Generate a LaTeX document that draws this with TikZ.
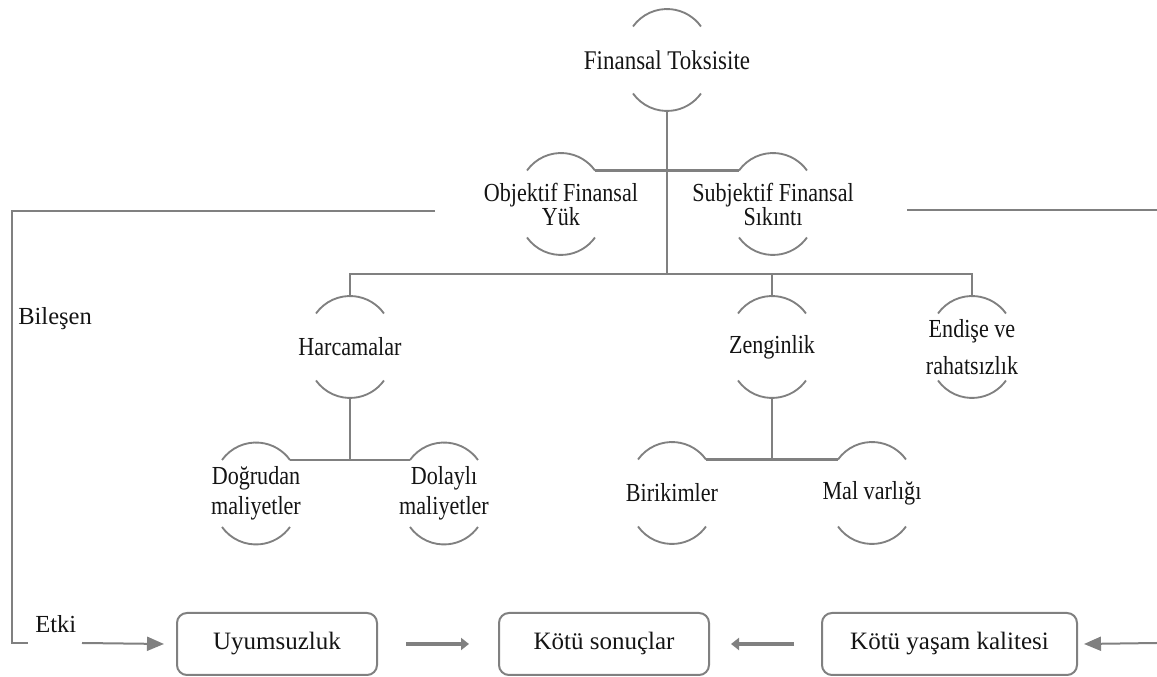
\documentclass[tikz,border=0pt]{standalone}
\usepackage{fontspec}
\setmainfont{Liberation Serif}
\newfontfamily\treefont[FakeStretch=0.85]{Liberation Serif}
\usetikzlibrary{arrows.meta}
\definecolor{lc}{HTML}{808080}
\definecolor{tc}{HTML}{141414}
\begin{document}
\begin{tikzpicture}[x=0.75pt,y=0.75pt,
  tn/.style={font=\treefont\fontsize{19.5}{22}\selectfont, text=tc, align=center, inner sep=0pt},
  arcl/.style={draw=lc, line width=1.4pt},
  ln/.style={draw=lc, line width=1.6pt},
  bx/.style={draw=lc, line width=1.5pt, rounded corners=7.5pt, minimum height=46.5pt,
    text=tc, font=\fontsize{18.75}{22}\selectfont, text height=0.8em, text depth=0pt, inner sep=0pt},
  lbl/.style={font=\fontsize{18.4}{22}\selectfont, text=tc, inner sep=0pt, anchor=base west},
  tarr/.style={draw=lc, line width=1.5pt, -{Triangle[length=12.75pt,width=10.5pt]}},
  farr/.style={draw=lc, line width=3.4pt, -{Triangle[length=6pt,width=9pt]}}
]
\useasboundingbox (0,0) rectangle (1157,677);

% tree nodes
\node[tn, font=\treefont\fontsize{20.25}{24}\selectfont] (ft) at (667,617) {Finansal Toksisite};
\node[tn, font=\treefont\fontsize{19.5}{18}\selectfont] (obj) at (561,473) {Objektif Finansal\\Yük};
\node[tn, font=\treefont\fontsize{19.5}{18}\selectfont] (sub) at (773,473) {Subjektif Finansal\\Sıkıntı};
\node[tn] (harc) at (350,330) {Harcamalar};
\node[tn] (zeng) at (772,330) {Zenginlik};
\node[tn, font=\treefont\fontsize{19.5}{27.75}\selectfont] (endi) at (972,330) {Endişe ve\\rahatsızlık};
\node[tn, font=\treefont\fontsize{19.5}{22.5}\selectfont] (dog) at (256,183.5) {Doğrudan\\maliyetler};
\node[tn, font=\treefont\fontsize{19.5}{22.5}\selectfont] (dol) at (444,183.5) {Dolaylı\\maliyetler};
\node[tn] (bir) at (672,184) {Birikimler};
\node[tn] (mal) at (872,184) {Mal varlığı};

% arcs around tree nodes
\foreach \n in {ft,obj,sub,harc,zeng,endi,dog,dol,bir,mal}{
  \draw[arcl] ([shift={(-34,33.5)}]\n.center) arc[start angle=144.4,end angle=35.6,radius=41.8];
  \draw[arcl] ([shift={(-34,-33.5)}]\n.center) arc[start angle=215.6,end angle=324.4,radius=41.8];
}

% tree connectors
\coordinate (j2) at (667,403);
\coordinate (j3) at (350,217);
\coordinate (j4) at (772,217);
\draw[ln] ([shift={(0,-51)}]ft.center) -- (j2);
\draw[ln] ([shift={(34,33.5)}]obj.center) -- ([shift={(-34,33.5)}]sub.center);
\draw[ln] ([shift={(0,51)}]harc.center) |- (j2) -| ([shift={(0,51)}]endi.center);
\draw[ln] (j2 -| zeng.center) -- ([shift={(0,51)}]zeng.center);
\draw[ln] ([shift={(0,-51)}]harc.center) -- (j3);
\draw[ln] ([shift={(34,33.5)}]dog.center) -- ([shift={(-34,33.5)}]dol.center);
\draw[ln] ([shift={(0,-51)}]zeng.center) -- (j4);
\draw[ln] ([shift={(34,33.5)}]bir.center) -- ([shift={(-34,33.5)}]mal.center);

% side labels and brackets
\node[lbl] (bil) at (18,352) {Bileşen};
\node[lbl] (etki) at (35,44) {Etki};
\coordinate (bl1) at (435,466);
\coordinate (blc) at (12,34);
\coordinate (bl2) at (28,34);
\draw[ln] (bl1) -| (blc) -- (bl2);
\coordinate (br1) at (907,467);
\coordinate (br2) at (1157,467);
\draw[ln] (br1) -- (br2);

% bottom boxes
\node[bx, minimum width=150pt] (uy) at (277,33) {Uyumsuzluk};
\node[bx, minimum width=157.5pt] (ks) at (604,33) {Kötü sonuçlar};
\node[bx, minimum width=191.25pt] (ky) at (949.5,33) {Kötü yaşam kalitesi};

\coordinate (ea) at (82,34);
\coordinate (ra) at (1157,34);
\draw[tarr] (ea) -- ([xshift=-9pt]uy.west);
\draw[tarr] (ra) -- ([xshift=4.5pt]ky.east);
\draw[farr] ([xshift=21pt]uy.east) -- ([xshift=-21.75pt]ks.west);
\draw[farr] ([xshift=-20.25pt]ky.west) -- ([xshift=15.75pt]ks.east);
\end{tikzpicture}
\end{document}
